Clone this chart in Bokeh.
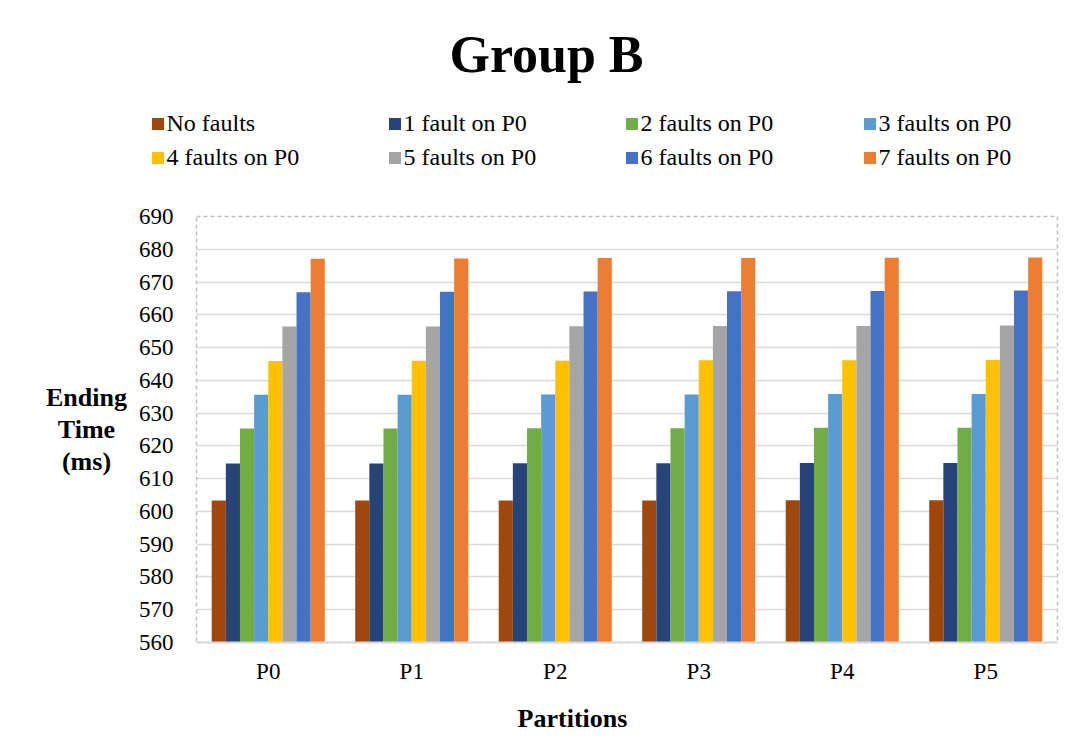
from bokeh.plotting import figure
from bokeh.models import FactorRange, Range1d, FixedTicker, Legend, LegendItem, Label, ColumnDataSource
from bokeh.layouts import column, row
from bokeh.transform import dodge
from bokeh.embed import file_html
from bokeh.resources import INLINE

partitions = ["P0", "P1", "P2", "P3", "P4", "P5"]
series_names = ["No faults", "1 fault on P0", "2 faults on P0", "3 faults on P0",
                "4 faults on P0", "5 faults on P0", "6 faults on P0", "7 faults on P0"]
colors = ["#9E480E", "#264478", "#70AD47", "#5B9BD5", "#FFC000", "#A5A5A5", "#4472C4", "#ED7D31"]

no_faults = [603.3, 603.3, 603.3, 603.3, 603.4, 603.4]
fault_1 = [614.6, 614.6, 614.7, 614.7, 614.8, 614.8]
faults_2 = [625.3, 625.3, 625.4, 625.4, 625.5, 625.5]
faults_3 = [635.6, 635.6, 635.7, 635.7, 635.8, 635.8]
faults_4 = [645.9, 646.0, 646.0, 646.1, 646.1, 646.2]
faults_5 = [656.4, 656.4, 656.5, 656.6, 656.6, 656.7]
faults_6 = [666.9, 667.0, 667.1, 667.2, 667.3, 667.4]
faults_7 = [677.1, 677.2, 677.3, 677.3, 677.4, 677.5]
y_ticks = [560, 570, 580, 590, 600, 610, 620, 630, 640, 650, 660, 670, 680, 690]

series_values = [no_faults, fault_1, faults_2, faults_3, faults_4, faults_5, faults_6, faults_7]
keys = ["s%d" % i for i in range(8)]
data = {"part": partitions}
for k, v in zip(keys, series_values):
    data[k] = v
source = ColumnDataSource(data)

FONT = "Liberation Serif"


def blank_fig(w, h):
    f = figure(width=w, height=h, x_range=Range1d(0, w), y_range=Range1d(h, 0),
               output_backend="svg", toolbar_location=None, title_location=None,
               x_axis_location=None, y_axis_location=None,
               min_border=0, min_border_left=0, min_border_right=0,
               min_border_top=0, min_border_bottom=0)
    f.xgrid.grid_line_color = None
    f.ygrid.grid_line_color = None
    f.outline_line_color = None
    f.background_fill_color = "white"
    f.border_fill_color = "white"
    return f


def add_text(f, txt, x, y, size, bold=True):
    f.add_layout(Label(x=x, y=y, text=txt, text_align="center", text_baseline="middle",
                       text_font=FONT, text_font_size=size,
                       text_font_style="bold" if bold else "normal", text_color="black"))


# ---------------- top: title + legend ----------------
TOP_H = 190
top = blank_fig(1080, TOP_H)
add_text(top, "Group B", 546, 54, "52px")
# legend swatches: hidden copies of the series (only their legend glyphs are drawn)
swatches = [top.vbar(x=k, top=k, width=1, source=source, fill_color=colors[i],
                     line_color=None, visible=False) for i, k in enumerate(keys)]
col_x = [151, 388, 625, 863]
for c in range(4):
    items = [LegendItem(label=series_names[c], renderers=[swatches[c]]),
             LegendItem(label=series_names[c + 4], renderers=[swatches[c + 4]])]
    lg = Legend(items=items, location=(col_x[c] - 1.5, TOP_H - 171),
                orientation="vertical", padding=0, margin=0, spacing=7,
                glyph_width=15, glyph_height=15, label_height=15, label_standoff=2,
                label_text_font=FONT, label_text_font_size="24px", label_text_color="black",
                inactive_fill_alpha=0, border_line_color=None, background_fill_alpha=0)
    top.add_layout(lg, "center")

# ---------------- left: y axis title ----------------
MID_H = 500
left = blank_fig(130, MID_H)
add_text(left, "Ending", 86, 403 - TOP_H, "26px")
add_text(left, "Time", 86, 440 - TOP_H, "26px")
add_text(left, "(ms)", 86, 477 - TOP_H, "26px")

# ---------------- main chart ----------------
p = figure(width=950, height=MID_H, x_range=FactorRange(*partitions), y_range=Range1d(560, 690),
           output_backend="svg", toolbar_location=None,
           min_border_left=66, min_border_right=23, min_border_top=216 - TOP_H,
           min_border_bottom=TOP_H + MID_H - 642)
p.background_fill_color = "white"
p.border_fill_color = "white"

bar_w = 0.0985
for i, k in enumerate(keys):
    off = (i - 3.5) * bar_w
    p.vbar(x=dodge("part", off, range=p.x_range), top=k, bottom=560, width=bar_w,
           source=source, fill_color=colors[i], line_color=None)

p.yaxis.ticker = FixedTicker(ticks=y_ticks)
p.yaxis.axis_line_color = None
p.yaxis.major_tick_line_color = None
p.yaxis.minor_tick_line_color = None
p.yaxis.major_label_text_font = FONT
p.yaxis.major_label_text_font_size = "23px"
p.yaxis.major_label_text_color = "black"
p.yaxis.major_label_standoff = 17

p.xaxis.axis_line_color = "#d9d9d9"
p.xaxis.axis_line_width = 2
p.xaxis.major_tick_line_color = None
p.xaxis.minor_tick_line_color = None
p.xaxis.major_label_text_font = FONT
p.xaxis.major_label_text_font_size = "23px"
p.xaxis.major_label_text_color = "black"
p.xaxis.major_label_standoff = 10

p.xgrid.grid_line_color = None
p.ygrid.grid_line_color = "#d9d9d9"
p.ygrid.grid_line_width = 1.5

p.outline_line_color = "#bfbfbf"
p.outline_line_dash = "4 3"
p.outline_line_width = 1.5

# ---------------- bottom: x axis title ----------------
BOT_H = 752 - TOP_H - MID_H
bottom = blank_fig(1080, BOT_H)
add_text(bottom, "Partitions", 572, 718 - TOP_H - MID_H, "26px")

layout = column(top, row(left, p), bottom)
open("out.html", "w").write(file_html(layout, INLINE))
